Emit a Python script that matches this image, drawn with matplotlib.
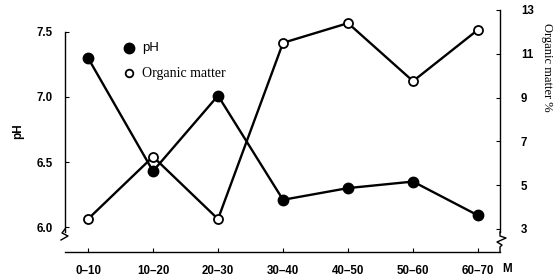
import matplotlib
matplotlib.use("Agg")
import matplotlib.pyplot as plt

categories = ["0\u201310", "10\u201320", "20\u201330", "30\u201340", "40\u201350", "50\u201360", "60\u201370"]
ph_values = [7.30, 6.43, 7.01, 6.21, 6.30, 6.35, 6.09]
organic_values = [3.45, 6.3, 3.45, 11.5, 12.4, 9.75, 12.1]
ph_ticks = [6.0, 6.5, 7.0, 7.5]
om_ticks = [3, 5, 7, 9, 11, 13]

W, H = 557, 279
fig = plt.figure(figsize=(W / 100, H / 100), dpi=100)
L, R, B, T = 65, 500, 252, 10
ax = fig.add_axes([L / W, 1 - B / H, (R - L) / W, (B - T) / H])
ax2 = ax.twinx()

x = list(range(len(categories)))
ax.set_xlim(-0.354, 6.338)
ax.set_ylim(5.809, 7.668)
ax2.set_ylim(1.945, 13.0)

ax.plot(x, ph_values, color="black", lw=1.7, marker="o", ms=7.5,
        mfc="black", mec="black", zorder=3, label="pH")
ax2.plot(x, organic_values, color="black", lw=1.7, marker="o", ms=6.5,
         mfc="white", mec="black", mew=1.3, zorder=3, label="Organic matter")

tick_font = dict(family="Liberation Sans", weight="bold", size=8.3)
for a in (ax, ax2):
    a.spines["top"].set_visible(False)
    a.set_facecolor("none")

ax.spines["right"].set_visible(False)
ax2.spines["left"].set_visible(False)
ax2.spines["bottom"].set_visible(False)

ax.spines["left"].set_bounds(5.809 + 20 / 131, 7.5)
ax2.spines["right"].set_bounds(1.945 + 20 / 21.8, 13.0)
for s in ("left", "bottom"):
    ax.spines[s].set_linewidth(1.0)
ax2.spines["right"].set_linewidth(1.0)

ax.set_yticks(ph_ticks)
ax.set_yticklabels([f"{v:.1f}" for v in ph_ticks], fontdict=tick_font)
ax.tick_params(axis="y", direction="in", length=3, pad=9)
ax2.set_yticks(om_ticks)
ax2.set_yticklabels([str(v) for v in om_ticks], fontdict=tick_font)
ax2.tick_params(axis="y", direction="in", length=3, pad=15)

ax.set_xticks(x)
ax.set_xticklabels(categories, fontdict=tick_font)
ax.tick_params(axis="x", direction="in", length=3, pad=9)
fig.text(502 / W, 1 - 269 / H, "M", ha="left", va="center", **tick_font)

ax.set_ylabel("pH", fontdict=dict(family="Liberation Sans", weight="bold", size=8.5), labelpad=9)
fig.text(547 / W, 1 - 67 / H, "Organic matter %", rotation=-90, ha="center", va="center",
         family="Liberation Serif", size=9)

# axis break marks
def px(pxx, pyy):
    return ((pxx - L) / (R - L), (B - pyy) / (B - T))

zig_l = [px(65, 229), px(62, 233), px(68, 236), px(61, 240)]
ax.plot([p[0] for p in zig_l], [p[1] for p in zig_l], transform=ax.transAxes,
        color="black", lw=1.0, clip_on=False)
zig_r = [px(500, 232), px(500, 236), px(506, 238), px(497, 242), px(502, 245), px(500, 247), px(500, 252)]
ax.plot([p[0] for p in zig_r], [p[1] for p in zig_r], transform=ax.transAxes,
        color="black", lw=1.0, clip_on=False)

# legend
lx, ly1, ly2 = 129, 48, 73
ax.plot(*px(lx, ly1), transform=ax.transAxes, marker="o", ms=7.5, mfc="black", mec="black")
ax.plot(*px(lx, ly2), transform=ax.transAxes, marker="o", ms=5.5, mfc="white", mec="black", mew=1.3)
ax.text(*px(142, ly1), "pH", transform=ax.transAxes, va="center", ha="left",
        family="Liberation Sans", size=9.5)
ax.text(*px(142, ly2), "Organic matter", transform=ax.transAxes, va="center", ha="left",
        family="Liberation Serif", size=10)

fig.savefig("out.png", dpi=100)
